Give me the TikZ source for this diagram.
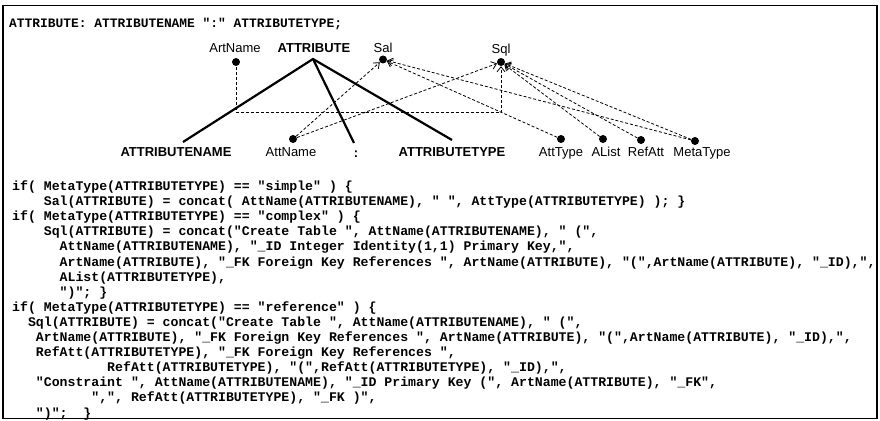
\documentclass[tikz,border=0pt]{standalone}
\usepackage{fontspec}
\setmainfont{Liberation Sans}
\newfontfamily\codefont{Liberation Mono}
\usetikzlibrary{arrows.meta}
\newcommand\mycl[4]{\node[code] (#1) at ({12+#2*7.92},{190.5+#3*15.1}) {#4};}
\begin{document}
\begin{tikzpicture}[x=1pt,y=-1pt,
  dot/.style={circle,fill=black,inner sep=0pt,minimum size=8pt},
  lbl/.style={font=\fontsize{13}{15}\selectfont,inner sep=0pt,anchor=base},
  blbl/.style={font=\fontsize{13}{15}\selectfont\bfseries,inner sep=0pt,anchor=base},
  code/.style={font=\codefont\bfseries\fontsize{13.2}{15}\selectfont,inner sep=0pt,anchor=base west},
  tree/.style={line width=2.2pt},
  dep/.style={line width=0.8pt,dash pattern=on 3pt off 2pt,-{Straight Barb[length=5pt,width=8pt,line width=0.8pt]}},
]
\useasboundingbox (0,0) rectangle (880,420);
\draw[line width=1.6pt] (3,5.5) rectangle (877,418.5);
\node[code,font=\codefont\bfseries\fontsize{12.9}{15}\selectfont] (title) at (9,28) {ATTRIBUTE: ATTRIBUTENAME ":" ATTRIBUTETYPE;};

% top labels
\node[lbl]  (lartname) at (235,52.5) {ArtName};
\node[blbl] (lattr)    at (314,52.5) {ATTRIBUTE};
\node[lbl]  (lsal)     at (383,52.5) {Sal};
\node[lbl]  (lsql)     at (501,54) {Sql};
\node[dot] (dartname) at (236,62) {};
\coordinate (apex) at (313,59);
\node[dot] (dsal) at (383,59.5) {};
\node[dot] (dsql) at (501,62) {};

% bottom labels
\node[blbl] (lattrname) at (176,156) {ATTRIBUTENAME};
\node[lbl]  (lattname)  at (291,156) {AttName};
\node[blbl] (lcolon)    at (356,157) {:};
\node[blbl] (lattrtype) at (452,156) {ATTRIBUTETYPE};
\node[lbl]  (latttype)  at (561,156.5) {AttType};
\node[lbl]  (lalist)    at (606,156.5) {AList};
\node[lbl]  (lrefatt)   at (646,156.5) {RefAtt};
\node[lbl]  (lmetatype) at (702,156.5) {MetaType};
\node[dot] (dattname) at (293,139) {};
\node[dot] (datttype) at (561,139) {};
\node[dot] (dalist)   at (603,139) {};
\node[dot] (drefatt)  at (641,140) {};
\node[dot] (dmetatype) at (695,141) {};
\coordinate (eattrname) at (183,142);
\coordinate (ecolon) at (354,143);
\coordinate (eattrtype) at (452,140);

% tree
\draw[tree] (eattrname) -- (apex) -- (eattrtype);
\draw[tree] (apex) -- (ecolon);

% dependencies
\coordinate (hcorner) at (501,112.5);
\draw[dep] (dartname.center) |- (hcorner) -- (dsql);
\draw[dep] (dattname) -- (dsal);
\draw[dep] (dattname) -- (dsql);
\draw[dep] (datttype) -- (dsal);
\draw[dep] (dmetatype) -- (dsal);
\draw[dep] (dalist) -- (dsql);
\draw[dep] (drefatt) -- (dsql);
\draw[dep] (dmetatype) -- (dsql);

% code
\mycl{c0}{0}{0}{if( MetaType(ATTRIBUTETYPE) == "simple" ) \{}
\mycl{c1}{4}{1}{Sal(ATTRIBUTE) = concat( AttName(ATTRIBUTENAME), " ", AttType(ATTRIBUTETYPE) ); \}}
\mycl{c2}{0}{2}{if( MetaType(ATTRIBUTETYPE) == "complex" ) \{}
\mycl{c3}{4}{3}{Sql(ATTRIBUTE) = concat("Create Table ", AttName(ATTRIBUTENAME), " (",}
\mycl{c4}{6}{4}{AttName(ATTRIBUTENAME), "\_ID Integer Identity(1,1) Primary Key,",}
\mycl{c5}{6}{5}{ArtName(ATTRIBUTE), "\_FK Foreign Key References ", ArtName(ATTRIBUTE), "(",ArtName(ATTRIBUTE), "\_ID),",}
\mycl{c6}{6}{6}{AList(ATTRIBUTETYPE),}
\mycl{c7}{6}{7}{")"; \}}
\mycl{c8}{0}{8}{if( MetaType(ATTRIBUTETYPE) == "reference" ) \{}
\mycl{c9}{2}{9}{Sql(ATTRIBUTE) = concat("Create Table ", AttName(ATTRIBUTENAME), " (",}
\mycl{c10}{3}{10}{ArtName(ATTRIBUTE), "\_FK Foreign Key References ", ArtName(ATTRIBUTE), "(",ArtName(ATTRIBUTE), "\_ID),",}
\mycl{c11}{3}{11}{RefAtt(ATTRIBUTETYPE), "\_FK Foreign Key References ",}
\mycl{c12}{12}{12}{RefAtt(ATTRIBUTETYPE), "(",RefAtt(ATTRIBUTETYPE), "\_ID),",}
\mycl{c13}{3}{13}{"Constraint ", AttName(ATTRIBUTENAME), "\_ID Primary Key (", ArtName(ATTRIBUTE), "\_FK",}
\mycl{c14}{10}{14}{",", RefAtt(ATTRIBUTETYPE), "\_FK )",}
\mycl{c15}{3}{15}{")";\ \ \}}
\end{tikzpicture}
\end{document}
